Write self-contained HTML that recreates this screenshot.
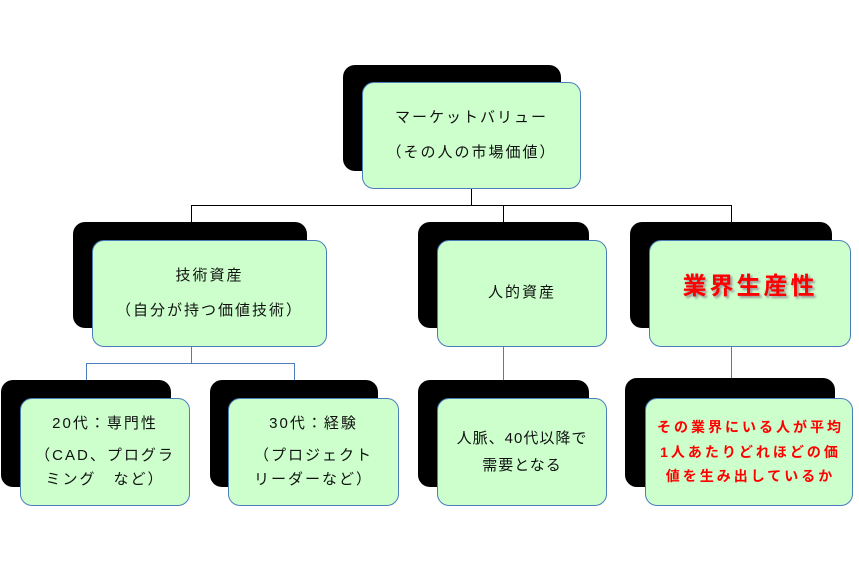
<!DOCTYPE html>
<html><head><meta charset="utf-8"><style>
body{margin:0;width:859px;height:568px;background:#fff;position:relative;overflow:hidden;font-family:"Liberation Sans","Noto Sans CJK JP",sans-serif}
.b{position:absolute;background:#000;border-radius:12px}
.g{position:absolute;background:#ccffcc;border:1px solid #4a7ebb;border-radius:12px;box-sizing:border-box;display:flex;flex-direction:column;align-items:center;justify-content:center;text-align:center;font-size:15px;letter-spacing:2px;color:#111;line-height:1.9}
.l{position:absolute;background:#4a7ebb}
.k{position:absolute;background:#000}
.r{color:#f00;font-weight:bold}
</style></head><body>
<div class="k" style="left:471px;top:189px;width:1px;height:16px"></div>
<div class="k" style="left:191px;top:205px;width:541px;height:1px"></div>
<div class="k" style="left:191px;top:205px;width:1px;height:35px"></div>
<div class="k" style="left:503px;top:205px;width:1px;height:35px"></div>
<div class="k" style="left:731px;top:205px;width:1px;height:35px"></div>
<div class="l" style="left:191px;top:346px;width:1px;height:17px"></div>
<div class="l" style="left:86px;top:363px;width:209px;height:1px"></div>
<div class="l" style="left:86px;top:363px;width:1px;height:35px"></div>
<div class="l" style="left:294px;top:363px;width:1px;height:35px"></div>
<div class="l" style="left:503px;top:346px;width:1px;height:52px"></div>
<div class="l" style="left:731px;top:346px;width:1px;height:52px"></div>

<div class="b" style="left:343px;top:65px;width:218px;height:106px"></div>
<div class="g" style="left:362px;top:82px;width:219px;height:107px;line-height:2.3"><div>マーケットバリュー</div><div>（その人の市場価値）</div></div>

<div class="b" style="left:73px;top:222px;width:234px;height:106px"></div>
<div class="g" style="left:92px;top:240px;width:235px;height:107px;line-height:2.3"><div>技術資産</div><div>（自分が持つ価値技術）</div></div>

<div class="b" style="left:418px;top:222px;width:171px;height:106px"></div>
<div class="g" style="left:437px;top:240px;width:170px;height:107px"><div>人的資産</div></div>

<div class="b" style="left:630px;top:222px;width:202px;height:106px"></div>
<div class="g" style="left:649px;top:240px;width:202px;height:107px"><div class="r" style="font-size:24px;letter-spacing:3px;text-shadow:2px 2px 2px #999;margin-bottom:14px">業界生産性</div></div>

<div class="b" style="left:1px;top:380px;width:170px;height:107px"></div>
<div class="g" style="left:20px;top:398px;width:170px;height:108px;line-height:1.6"><div style="margin-bottom:8px">20代：専門性</div><div>（CAD、プログラ<br>ミング　など）</div></div>

<div class="b" style="left:210px;top:380px;width:168px;height:107px"></div>
<div class="g" style="left:228px;top:398px;width:171px;height:108px;line-height:1.6"><div style="margin-bottom:8px">30代：経験</div><div>（プロジェクト<br>リーダーなど）</div></div>

<div class="b" style="left:418px;top:380px;width:171px;height:107px"></div>
<div class="g" style="left:437px;top:398px;width:170px;height:108px;line-height:1.8;letter-spacing:1px"><div>人脈、40代以降で<br>需要となる</div></div>

<div class="b" style="left:625px;top:378px;width:210px;height:109px"></div>
<div class="g" style="left:645px;top:398px;width:208px;height:108px;line-height:1.75"><div class="r" style="font-size:14px;letter-spacing:3px;margin-right:-3px">その業界にいる人が平均<br>1人あたりどれほどの価<br>値を生み出しているか</div></div>
</body></html>
